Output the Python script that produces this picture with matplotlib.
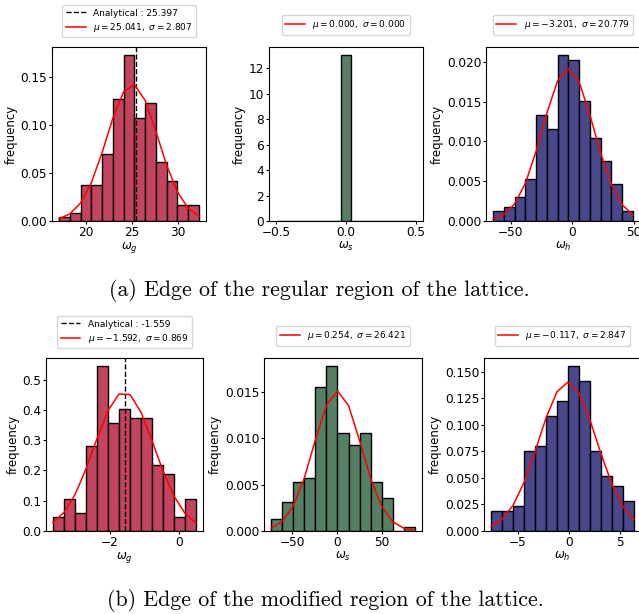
import numpy as np
import matplotlib.pyplot as plt

'''
histogram data read off the figure (density, bin edges, fitted normal at edges)
'''
# (a) regular region
wg_a_edges = [17.02, 18.20, 19.38, 20.56, 21.73, 22.91, 24.09, 25.27, 26.45, 27.63, 28.81, 29.98, 31.16, 32.34]
wg_a_dens = [0.0042, 0.0087, 0.0378, 0.0370, 0.0700, 0.1268, 0.1722, 0.1067, 0.1230, 0.0617, 0.0412, 0.0166, 0.0166]
wg_a_fit = [0.0024, 0.0073, 0.0186, 0.0398, 0.0709, 0.1066, 0.1342, 0.1417, 0.1253, 0.0929, 0.0577, 0.0302, 0.0132, 0.0048]
wg_a_analytic = 25.397
wg_a_label = r'$\mu = 25.041,\ \sigma = 2.807$'

ws_a_edges = [-0.5, -0.423, -0.346, -0.269, -0.192, -0.115, -0.038, 0.038, 0.115, 0.192, 0.269, 0.346, 0.423, 0.5]
ws_a_dens = [0, 0, 0, 0, 0, 0, 13.0, 0, 0, 0, 0, 0, 0]
ws_a_label = r'$\mu = 0.000,\ \sigma = 0.000$'

wh_a_edges = [-64.30, -55.54, -46.78, -38.02, -29.26, -20.50, -11.74, -2.98, 5.78, 14.54, 23.30, 32.06, 40.82, 49.58]
wh_a_dens = [0.00122, 0.00176, 0.00298, 0.00524, 0.01333, 0.01161, 0.02084, 0.02025, 0.01509, 0.01044, 0.00755, 0.00470, 0.00122]
wh_a_fit = [0.00026, 0.00081, 0.00213, 0.00472, 0.00875, 0.01358, 0.01764, 0.01920, 0.01749, 0.01334, 0.00851, 0.00455, 0.00204, 0.00076]
wh_a_label = r'$\mu = -3.201,\ \sigma = 20.779$'

# (b) modified region
wg_b_edges = [-3.649, -3.331, -3.013, -2.695, -2.377, -2.058, -1.740, -1.422, -1.104, -0.786, -0.468, -0.150, 0.168, 0.486]
wg_b_dens = [0.0462, 0.1066, 0.0604, 0.2790, 0.5440, 0.3570, 0.4030, 0.3740, 0.3720, 0.2176, 0.1870, 0.0462, 0.1066]
wg_b_fit = [0.0279, 0.0620, 0.1206, 0.2052, 0.3053, 0.3976, 0.4525, 0.4504, 0.3921, 0.2986, 0.1989, 0.1159, 0.0590, 0.0263]
wg_b_analytic = -1.559
wg_b_label = r'$\mu = -1.592,\ \sigma = 0.869$'

ws_b_edges = [-73.40, -61.11, -48.82, -36.52, -24.23, -11.94, 0.35, 12.64, 24.94, 37.23, 49.52, 61.81, 74.10, 86.40]
ws_b_dens = [0.00133, 0.00309, 0.00532, 0.00576, 0.01558, 0.01777, 0.01061, 0.00932, 0.01061, 0.00532, 0.00353, 0.0, 0.00043]
ws_b_fit = [0.00031, 0.00102, 0.00269, 0.00573, 0.00983, 0.01357, 0.01510, 0.01353, 0.00976, 0.00567, 0.00265, 0.00100, 0.00030, 0.00007]
ws_b_label = r'$\mu = 0.254,\ \sigma = 26.421$'

wh_b_edges = [-7.600, -6.526, -5.452, -4.379, -3.305, -2.231, -1.157, -0.083, 0.990, 2.064, 3.138, 4.212, 5.286, 6.359]
wh_b_dens = [0.0185, 0.0185, 0.0232, 0.0752, 0.0795, 0.1080, 0.1221, 0.1550, 0.1409, 0.0749, 0.0520, 0.0423, 0.0279]
wh_b_fit = [0.0044, 0.0111, 0.0242, 0.0457, 0.0749, 0.1064, 0.1311, 0.1401, 0.1299, 0.1045, 0.0729, 0.0441, 0.0232, 0.0105]
wh_b_label = r'$\mu = -0.117,\ \sigma = 2.847$'

RED_C = '#c4435f'
GREEN_C = '#568064'
BLUE_C = '#4a488c'

fig = plt.figure(figsize = (6.39, 6.14), dpi = 100)
W, H = 639.0, 614.0

def make_ax(l, t, r, b):
    return fig.add_axes([l / W, 1 - b / H, (r - l) / W, (b - t) / H])

def hist_panel(ax, edges, dens, color, fit, label, analytic, xlabel, xticks, yticks, leg_y):
    edges = np.array(edges)
    ax.bar(edges[:-1], dens, width = np.diff(edges), align = 'edge', color = color,
           edgecolor = 'black', linewidth = 1.0)
    if analytic is not None:
        ax.axvline(analytic, color = 'black', linestyle = '--', linewidth = 1.0,
                   label = 'Analytical : ' + analytic_txt[analytic])
    if fit is not None:
        ax.plot(edges, fit, color = 'red', linewidth = 1.1, label = label)
    else:
        ax.plot([], [], color = 'red', linewidth = 1.1, label = label)
    ax.set_xticks(xticks)
    ax.set_yticks(yticks)
    ax.tick_params(labelsize = 8.7, length = 2.2, pad = 1.2)
    ax.set_xlabel(xlabel, fontsize = 8.5, labelpad = 1)
    ax.set_ylabel('frequency', fontsize = 8.5, labelpad = 2)
    ax.legend(loc = 'lower center', bbox_to_anchor = (0.5, leg_y), fontsize = 6.5,
              borderaxespad = 0.2, handlelength = 2.2, labelspacing = 0.35)

analytic_txt = {wg_a_analytic: '25.397', wg_b_analytic: '-1.559'}

a1 = make_ax(52, 47, 206, 221)
a2 = make_ax(269, 47, 423, 221)
a3 = make_ax(486, 47, 640, 221)
b1 = make_ax(46, 358, 203, 531)
b2 = make_ax(264, 358, 422, 531)
b3 = make_ax(484, 358, 641, 531)

hist_panel(a1, wg_a_edges, wg_a_dens, RED_C, wg_a_fit, wg_a_label, wg_a_analytic, r'$\omega_g$',
           [20, 25, 30], [0.0, 0.05, 0.10, 0.15], 1.045)
a1.yaxis.set_major_formatter(plt.FormatStrFormatter('%.2f'))
hist_panel(a2, ws_a_edges, ws_a_dens, GREEN_C, None, ws_a_label, None, r'$\omega_s$',
           [-0.5, 0.0, 0.5], [0, 2, 4, 6, 8, 10, 12], 1.06)
hist_panel(a3, wh_a_edges, wh_a_dens, BLUE_C, wh_a_fit, wh_a_label, None, r'$\omega_h$',
           [-50, 0, 50], [0.0, 0.005, 0.010, 0.015, 0.020], 1.06)
a3.yaxis.set_major_formatter(plt.FormatStrFormatter('%.3f'))

hist_panel(b1, wg_b_edges, wg_b_dens, RED_C, wg_b_fit, wg_b_label, wg_b_analytic, r'$\omega_g$',
           [-2, 0], [0.0, 0.1, 0.2, 0.3, 0.4, 0.5], 1.045)
b1.yaxis.set_major_formatter(plt.FormatStrFormatter('%.1f'))
hist_panel(b2, ws_b_edges, ws_b_dens, GREEN_C, ws_b_fit, ws_b_label, None, r'$\omega_s$',
           [-50, 0, 50], [0.0, 0.005, 0.010, 0.015], 1.06)
b2.yaxis.set_major_formatter(plt.FormatStrFormatter('%.3f'))
hist_panel(b3, wh_b_edges, wh_b_dens, BLUE_C, wh_b_fit, wh_b_label, None, r'$\omega_h$',
           [-5, 0, 5], [0.0, 0.025, 0.05, 0.075, 0.10, 0.125, 0.15], 1.06)
b3.yaxis.set_major_formatter(plt.FormatStrFormatter('%.3f'))

fig.text(319 / W, 1 - 291 / H, '(a) Edge of the regular region of the lattice.',
         family = 'cmr10', fontsize = 15.8, ha = 'center', va = 'center')
fig.text(325 / W, 1 - 600 / H, '(b) Edge of the modified region of the lattice.',
         family = 'cmr10', fontsize = 15.8, ha = 'center', va = 'center')

plt.savefig('out.png', dpi = 100)
